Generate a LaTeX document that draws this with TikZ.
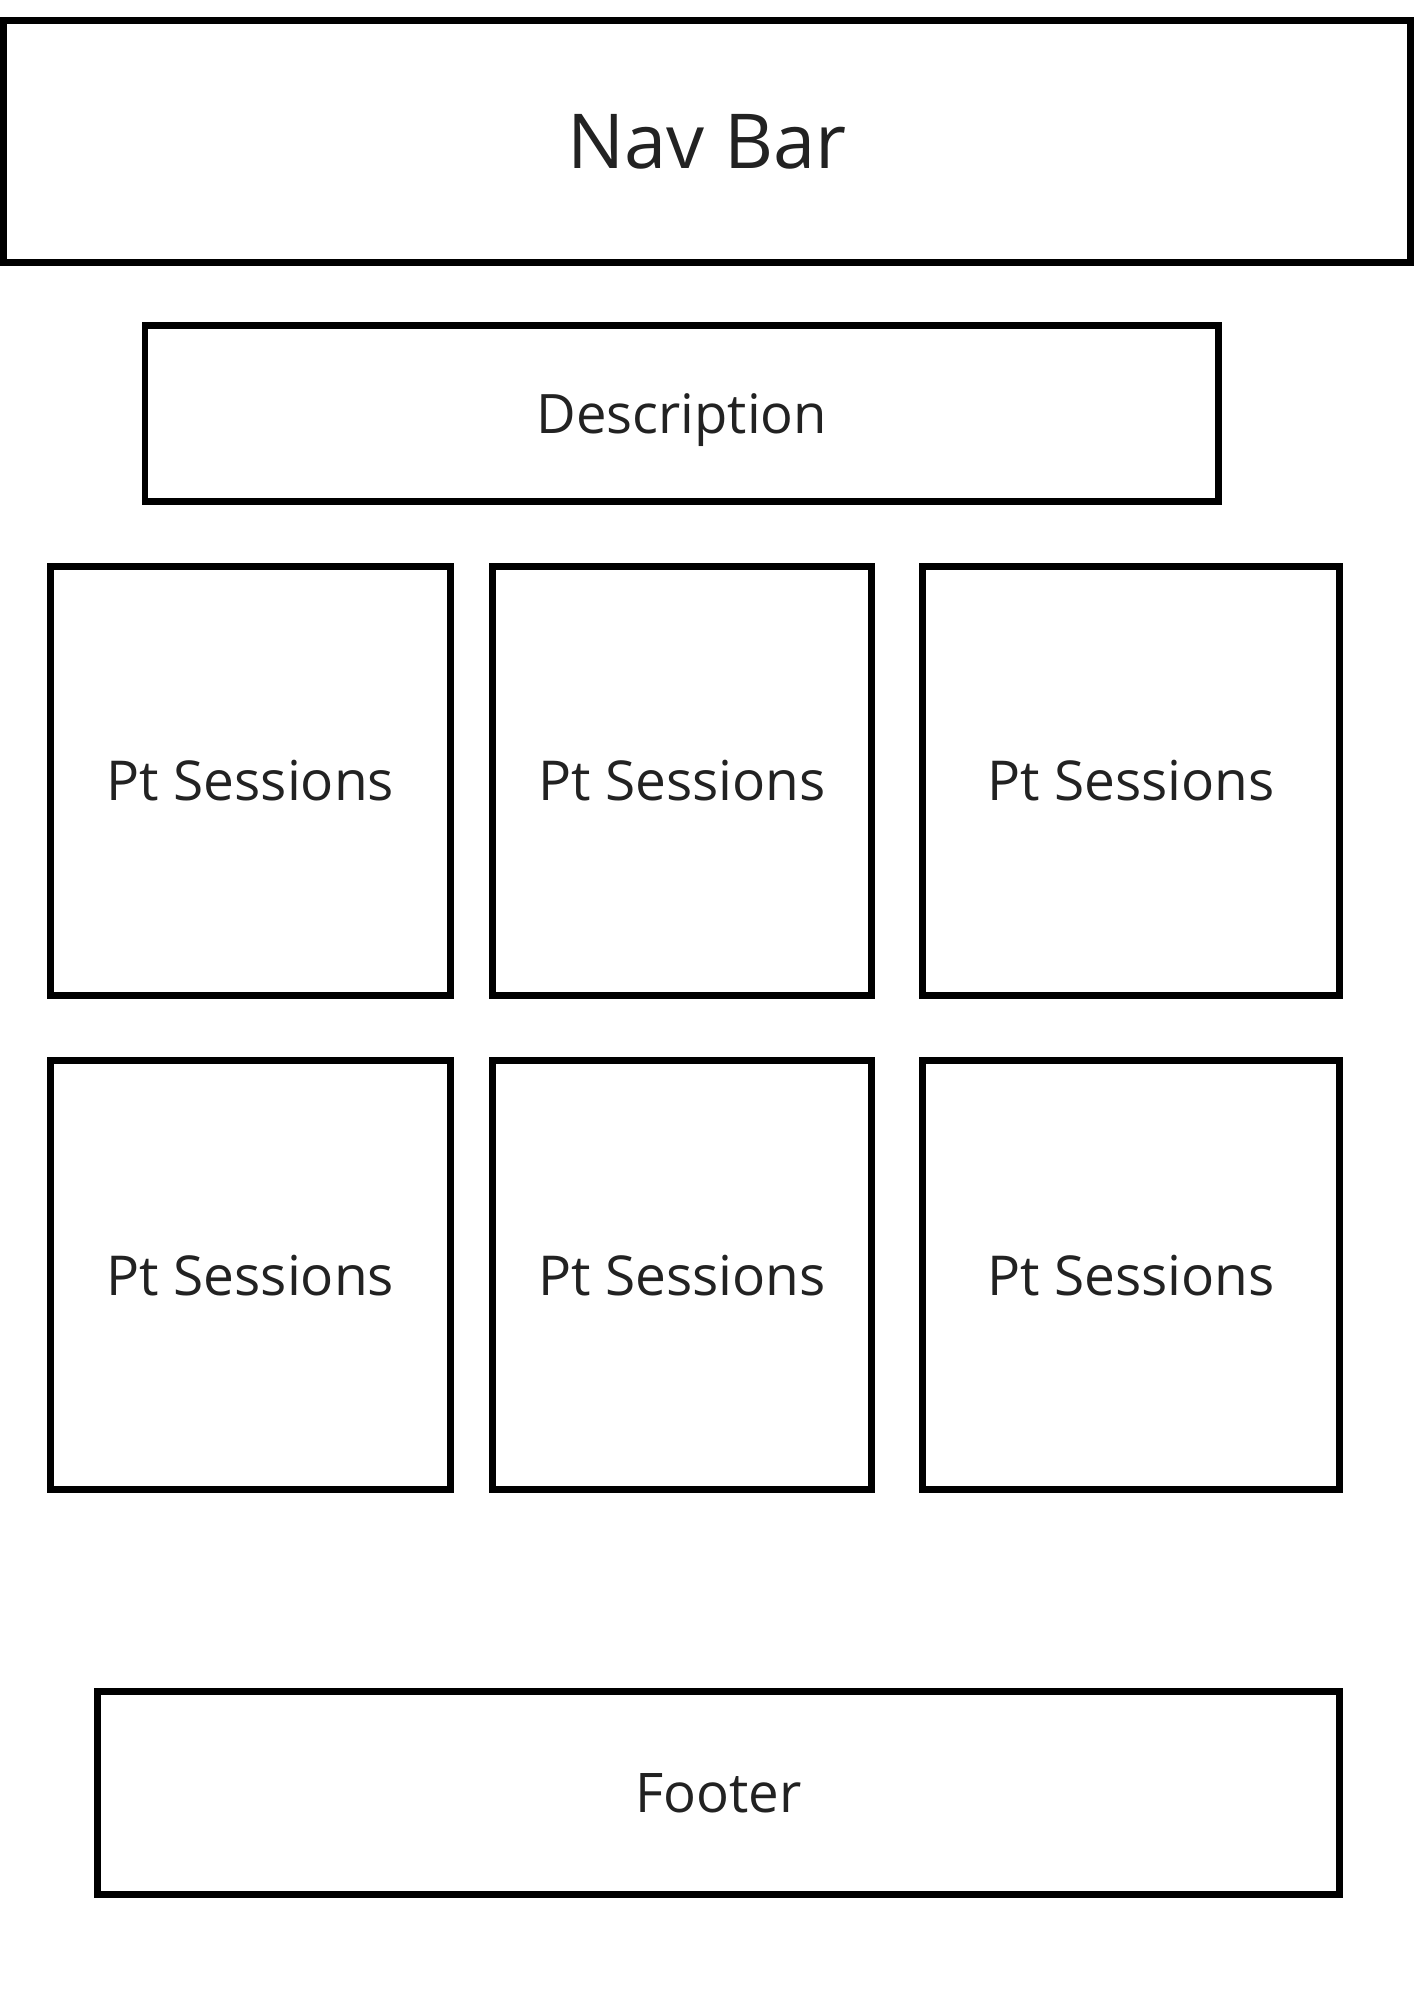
\documentclass[tikz,border=0pt]{standalone}
\usepackage{fontspec}
\setmainfont{Open Sans}
\usetikzlibrary{positioning}
\definecolor{inkgray}{HTML}{222222}
\tikzset{
  frame/.style={draw=black, line width=3.4pt, text=inkgray, inner sep=0pt},
  tile/.style={frame, minimum height=214.6pt, font=\fontsize{27.5}{33}\selectfont}
}
\begin{document}
\begin{tikzpicture}[x=0.5pt, y=-0.5pt]
  \useasboundingbox (0,0) rectangle (1414,2000);
  % Nav bar
  \node[frame, minimum width=703.6pt, minimum height=121.1pt, font=\fontsize{37.9}{45}\selectfont] (navbar) at (707,141.5) {Nav Bar};
  % Description
  \node[frame, minimum width=536.85pt, minimum height=87.85pt, text depth=0pt, font=\fontsize{27.2}{33}\selectfont] (descr) at (681.75,413.75) {Description};
  % Session tiles
  \foreach \row/\y in {1/781, 2/1275.2} {
    \node[tile, minimum width=200.1pt] (sess\row a) at (250.5,\y) {Pt Sessions};
    \node[tile, minimum width=189.6pt] (sess\row b) at (682,\y) {Pt Sessions};
    \node[tile, minimum width=208.45pt] (sess\row c) at (1131.15,\y) {Pt Sessions};
  }
  % Footer
  \node[frame, minimum width=621.1pt, minimum height=101.6pt, font=\fontsize{27.3}{33}\selectfont] (footer) at (718.5,1793) {Footer};
\end{tikzpicture}
\end{document}
